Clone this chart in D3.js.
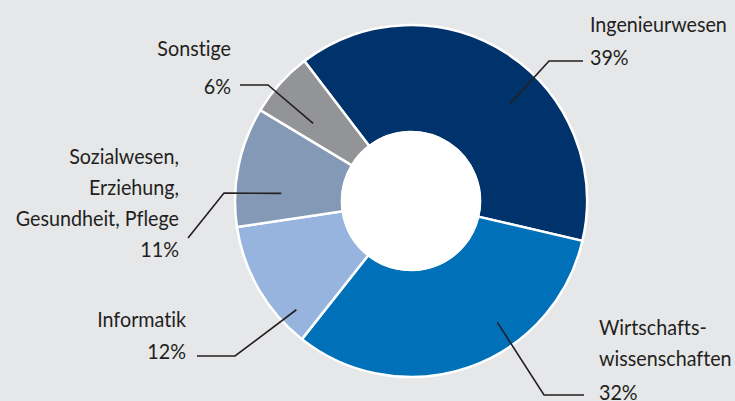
<!DOCTYPE html>
<html>
<head>
<meta charset="utf-8">
<script src="https://cdn.jsdelivr.net/npm/d3@7"></script>
<style>
  html, body { margin: 0; padding: 0; background: #e6e7e9; }
  svg { display: block; }
  text { font-family: Lato, "Open Sans", sans-serif; fill: #231f20; font-variant-ligatures: none; }
</style>
</head>
<body>
<svg id="chart" width="735" height="401"></svg>
<script>
// data
var categories = ['Ingenieurwesen', 'Wirtschaftswissenschaften', 'Informatik',
  'Sozialwesen, Erziehung, Gesundheit, Pflege', 'Sonstige'];
var shares = [39, 32, 12, 11, 6];
var labelLines = [['Ingenieurwesen'], ['Wirtschafts-', 'wissenschaften'], ['Informatik'],
  ['Sozialwesen,', 'Erziehung,', 'Gesundheit, Pflege'], ['Sonstige']];
var colors = ['#00336b', '#0071b9', '#96b4de', '#8499b6', '#939497'];

// layout of the callouts (where the leader leaves the slice, elbow, text block)
var callouts = [
  { t: 0.59, r: 139, elbowX: 549, lineY: 61, endX: 583, anchor: 'start', textX: 590, firstY: 32, pctY: 65 },
  { t: 0.36, r: 149, elbowX: 544, lineY: 395, endX: 584, anchor: 'start', textX: 599, firstY: 335, pctY: 400 },
  { t: 0.19, r: 158, elbowX: 235, lineY: 356, endX: 197, anchor: 'end', textX: 186, firstY: 327, pctY: 359 },
  { t: 0.30, r: 130, elbowX: 224, lineY: 193, endX: 188, endY: 238, anchor: 'end', textX: 179, firstY: 164, pctY: 257, diag: true },
  { t: 0.34, r: 125, elbowX: 268, lineY: 85, endX: 240, anchor: 'end', textX: 231, firstY: 56, pctY: 94 }
];

var width = 735, height = 401;
var cx = 411, cy = 201, outerR = 176, innerR = 69;
var lineH = 31;
var fontSize = 22;
var startDeg = -37.3;

var svg = d3.select('#chart');
var g = svg.append('g').attr('transform', 'translate(' + [cx, cy] + ')');

var pie = d3.pie().sort(null).value(function (d) { return d; })
  .startAngle(startDeg * Math.PI / 180)
  .endAngle((startDeg + 360) * Math.PI / 180);
var arcs = pie(shares);

var arc = d3.arc().innerRadius(innerR).outerRadius(outerR);

g.selectAll('.slice')
  .data(arcs)
  .enter().append('path')
  .attr('class', 'slice')
  .attr('d', arc)
  .attr('fill', function (d, i) { return colors[i]; })
  .attr('stroke', '#fff')
  .attr('stroke-width', 2.5)
  .attr('stroke-linejoin', 'miter');

g.append('circle').attr('r', innerR + 1).attr('fill', '#fff');

// condensed look: squeeze the font so "Ingenieurwesen" is as wide as in the original
var probe = svg.append('text').attr('font-size', fontSize).text('Ingenieurwesen');
var sx = 137 / probe.node().getComputedTextLength();
probe.remove();

arcs.forEach(function (d, i) {
  var c = callouts[i];
  var a = d.startAngle + c.t * (d.endAngle - d.startAngle);
  var px = cx + c.r * Math.sin(a);
  var py = cy - c.r * Math.cos(a);
  var pts = c.diag
    ? [[px, py], [c.elbowX, c.lineY], [c.endX, c.endY]]
    : [[px, py], [c.elbowX, c.lineY], [c.endX, c.lineY]];
  svg.append('path')
    .attr('d', d3.line()(pts))
    .attr('fill', 'none')
    .attr('stroke', '#231f20')
    .attr('stroke-width', 1.6);

  var rows = labelLines[i].map(function (s, k) { return { s: s, y: c.firstY + k * lineH }; });
  rows.push({ s: shares[i] + '%', y: c.pctY });
  rows.forEach(function (row) {
    svg.append('text')
      .attr('transform', 'translate(' + [c.textX, row.y] + ') scale(' + sx + ',1)')
      .attr('text-anchor', c.anchor)
      .attr('font-size', fontSize)
      .text(row.s);
  });
});
</script>
</body>
</html>
